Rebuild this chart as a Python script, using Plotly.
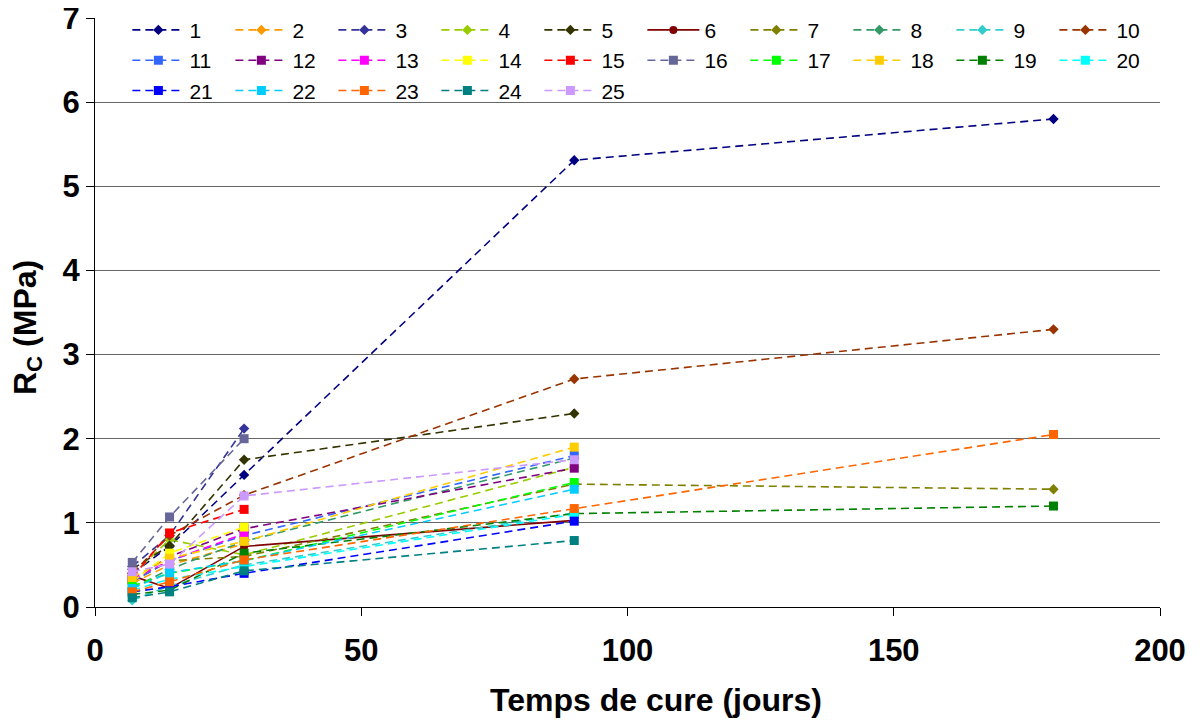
import plotly.graph_objects as go

days = [7, 14, 28, 90, 180]

series_names = [str(i) for i in range(1, 26)]

s1 = [0.40, 0.72, 1.57, 5.31, 5.80]
s2 = [0.28, 0.50, 0.75, None, None]
s3 = [0.48, 0.85, 2.12, None, None]
s4 = [0.38, 0.80, 0.62, 1.66, None]
s5 = [0.45, 0.73, 1.75, 2.30, None]
s6 = [0.37, 0.22, 0.72, 1.03, None]
s7 = [0.30, 0.55, 0.60, 1.46, 1.40]
s8 = [0.22, 0.45, 0.78, 1.77, None]
s9 = [0.08, 0.25, 0.50, 1.12, None]
s10 = [0.40, 0.85, 1.33, 2.71, 3.30]
s11 = [0.30, 0.55, 0.85, 1.80, None]
s12 = [0.32, 0.60, 0.93, 1.65, None]
s13 = [0.33, 0.55, 0.87, None, None]
s14 = [0.30, 0.64, 0.95, None, None]
s15 = [0.35, 0.88, 1.16, None, None]
s16 = [0.53, 1.07, 2.00, None, None]
s17 = [0.25, 0.40, 0.55, 1.48, None]
s18 = [0.35, 0.58, 0.78, 1.90, None]
s19 = [0.15, 0.20, 0.64, 1.11, 1.20]
s20 = [0.20, 0.33, 0.48, 1.10, None]
s21 = [0.18, 0.24, 0.40, 1.02, None]
s22 = [0.22, 0.41, 0.55, 1.40, None]
s23 = [0.18, 0.30, 0.56, 1.17, 2.05]
s24 = [0.11, 0.18, 0.43, 0.79, None]
s25 = [0.42, 0.51, 1.32, 1.75, None]

values = [s1, s2, s3, s4, s5, s6, s7, s8, s9, s10, s11, s12, s13, s14, s15,
          s16, s17, s18, s19, s20, s21, s22, s23, s24, s25]

colors = ["#000080", "#FF9900", "#333399", "#99CC00", "#333300", "#800000",
          "#808000", "#339966", "#33CCCC", "#993300", "#3366FF", "#800080",
          "#FF00FF", "#FFFF00", "#FF0000", "#666699", "#00FF00", "#FFCC00",
          "#008000", "#00FFFF", "#0000FF", "#00CCFF", "#FF6600", "#008080",
          "#CC99FF"]

x_ticks = [0, 50, 100, 150, 200]
y_ticks = [0, 1, 2, 3, 4, 5, 6, 7]
x_title = "Temps de cure (jours)"
y_title = "R<sub>C</sub> (MPa)"

FONT = "Liberation Sans, Arial, sans-serif"

fig = go.Figure()
for i, (name, vals, col) in enumerate(zip(series_names, values, colors)):
    n = i + 1
    xs = [d for d, v in zip(days, vals) if v is not None]
    ys = [v for v in vals if v is not None]
    if n == 6:
        sym, size, dash = "circle", 8, "solid"
    elif n <= 10:
        sym, size, dash = "diamond", 8, "8px,5px"
    else:
        sym, size, dash = "square", 9, "8px,5px"
    fig.add_trace(go.Scatter(
        x=xs, y=ys, name=name, mode="lines+markers",
        line=dict(color=col, width=1.6, dash=dash),
        marker=dict(symbol=sym, size=size, color=col, line=dict(width=0)),
    ))

fig.update_layout(
    width=1200, height=722,
    paper_bgcolor="white", plot_bgcolor="white",
    margin=dict(l=87, r=48, t=10, b=123, autoexpand=False),
    font=dict(family=FONT, color="black"),
    legend=dict(
        orientation="h", x=0.0304, y=1.014, xanchor="left", yanchor="top",
        font=dict(size=21, color="black", family=FONT),
        entrywidth=36, entrywidthmode="pixels",
        itemwidth=52, tracegroupgap=0,
        bgcolor="rgba(0,0,0,0)",
    ),
    showlegend=True,
    annotations=[
        dict(text=f"<b>{x_title}</b>", xref="paper", yref="paper",
             x=0.527, y=-0.158, xanchor="center", yanchor="middle",
             showarrow=False, font=dict(size=32, family=FONT, color="black")),
        dict(text=f"<b>{y_title}</b>", xref="paper", yref="paper",
             x=-0.064, y=0.475, xanchor="center", yanchor="middle",
             textangle=-90,
             showarrow=False, font=dict(size=32, family=FONT, color="black")),
    ],
)

fig.update_xaxes(
    range=[0, 200], tickvals=x_ticks, ticktext=[f"<b>{t}</b>" for t in x_ticks],
    showline=True, linecolor="black", linewidth=1,
    ticks="outside", ticklen=8, tickcolor="black",
    showgrid=False, zeroline=False, automargin=False,
    ticklabeloverflow="allow", ticklabelstandoff=8,
    tickfont=dict(size=31, family=FONT),
)
fig.update_yaxes(
    range=[0, 7], tickvals=y_ticks, ticktext=[f"<b>{t}</b>" for t in y_ticks],
    showline=True, linecolor="black", linewidth=1,
    ticks="outside", ticklen=8, tickcolor="black",
    showgrid=True, gridcolor="#666666", gridwidth=1,
    zeroline=False, automargin=False,
    ticklabeloverflow="allow",
    tickfont=dict(size=31, family=FONT),
)

fig.write_html("out.html")
